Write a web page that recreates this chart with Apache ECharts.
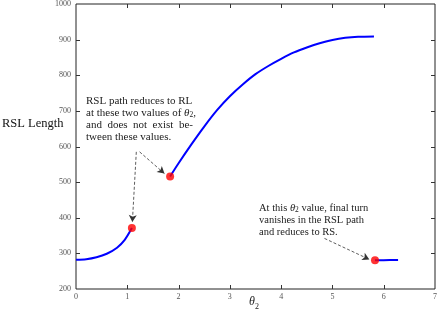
<!DOCTYPE html>
<html><head><meta charset="utf-8">
<script src="https://cdn.jsdelivr.net/npm/echarts@6/dist/echarts.min.js"></script>
<style>html,body{margin:0;padding:0;background:#fff}#c{width:440px;height:310px}</style>
</head><body><div id="c"></div>
<script>
// Segment 1: RSL length for theta2 in [0, ~1.09]
const seg1X = [0, 0.2, 0.4, 0.6, 0.8, 0.95, 1.09];
const seg1Y = [282, 283.5, 289, 299, 316, 338, 371];
// Segment 2: theta2 in [~1.835, ~5.81]
const seg2X = [1.835, 2.0, 2.25, 2.5, 2.75, 3.0, 3.25, 3.5, 3.75, 4.0, 4.25, 4.5, 4.75, 5.0, 5.25, 5.5, 5.81];
const seg2Y = [516, 553, 606, 656, 702, 741, 774, 803, 826, 846, 864, 878, 890, 899, 905, 908, 909];
// Segment 3: theta2 in [~5.83, 2*pi]
const seg3X = [5.83, 6.0, 6.28];
const seg3Y = [280.5, 281, 281.5];
// Special points (red dots)
const dotX = [1.09, 1.835, 5.83];
const dotY = [371, 516, 280.5];
// Axis ticks
const xTicks = [0, 1, 2, 3, 4, 5, 6, 7];
const yTicks = [200, 300, 400, 500, 600, 700, 800, 900, 1000];
// Annotation arrows (data coords: start -> end)
const arrows = [
  [[1.176, 585], [1.099, 388]],
  [[1.24, 585], [1.725, 524]],
  [[4.845, 342], [5.72, 283]]
];

const zip = (xs, ys) => xs.map((x, i) => [x, ys[i]]);
const FONT = 'Liberation Serif';
const chart = echarts.init(document.getElementById('c'), null, {renderer: 'canvas'});

function mkAxis(kind, pos, showLabel, margin) {
  const ticks = kind === 'x' ? xTicks : yTicks;
  return {
    type: 'value', position: pos,
    min: ticks[0], max: ticks[ticks.length - 1], interval: ticks[1] - ticks[0],
    axisLine: {show: false, onZero: false},
    axisTick: {show: false},
    splitLine: {show: false},
    axisLabel: {show: showLabel, color: 'rgb(85,85,85)', fontFamily: FONT, fontSize: 8, margin: margin, formatter: v => String(v)}
  };
}

const textGraphics = [
  {type: 'text', left: 2, top: 117, style: {text: 'RSL Length', font: '12.5px "' + FONT + '"', fill: '#111'}},
  {type: 'text', left: 249, top: 296, style: {
    text: '{t|θ}{s|2}',
    rich: {
      t: {fontFamily: FONT, fontStyle: 'italic', fontSize: 12, fill: '#222', verticalAlign: 'top'},
      s: {fontFamily: FONT, fontSize: 8, fill: '#222', padding: [7, 0, 0, 0], verticalAlign: 'top'}
    }}},
  {type: 'text', left: 86, top: 95, style: {
    text: 'RSL path reduces to RL\n{n|at these two values of }{t|θ}{s|2}{n|,}\nand  does  not  exist  be-\ntween these values.',
    font: '11px "' + FONT + '"', fill: '#222', lineHeight: 12,
    rich: {
      n: {fontFamily: FONT, fontSize: 11, fill: '#222'},
      t: {fontFamily: FONT, fontStyle: 'italic', fontSize: 11, fill: '#222'},
      s: {fontFamily: FONT, fontSize: 7.5, fill: '#222', padding: [5, 0, 0, 0]}
    }}},
  {type: 'text', left: 259, top: 202, style: {
    text: '{n|At this }{t|θ}{s|2}{n| value, final turn}\nvanishes in the RSL path\nand reduces to RS.',
    font: '10.5px "' + FONT + '"', fill: '#222', lineHeight: 12,
    rich: {
      n: {fontFamily: FONT, fontSize: 10.5, fill: '#222'},
      t: {fontFamily: FONT, fontStyle: 'italic', fontSize: 10.5, fill: '#222'},
      s: {fontFamily: FONT, fontSize: 7.5, fill: '#222', padding: [5, 0, 0, 0]}
    }}}
];

chart.setOption({
  animation: false,
  backgroundColor: '#fff',
  grid: {left: 76, right: 3, top: 4, bottom: 21, show: true, borderColor: 'rgb(34,34,34)', borderWidth: 1, backgroundColor: 'transparent'},
  xAxis: [mkAxis('x', 'bottom', true, 4)],
  yAxis: [mkAxis('y', 'left', true, 5)],
  series: [
    {type: 'line', data: zip(seg1X, seg1Y), smooth: 0.3, showSymbol: false, lineStyle: {color: '#0000ff', width: 2}, z: 3},
    {type: 'line', data: zip(seg2X, seg2Y), smooth: 0.3, showSymbol: false, lineStyle: {color: '#0000ff', width: 2}, z: 3},
    {type: 'line', data: zip(seg3X, seg3Y), smooth: 0.3, showSymbol: false, lineStyle: {color: '#0000ff', width: 2}, z: 3,
      markLine: {
        silent: true, animation: false,
        symbol: ['none', 'arrow'], symbolSize: [6, 7],
        label: {show: false},
        lineStyle: {color: '#333', type: [3, 2], width: 0.8},
        data: arrows.map(a => [{coord: a[0], symbol: 'none'}, {coord: a[1], symbol: 'arrow'}])
      }},
    {type: 'scatter', data: zip(dotX, dotY), symbolSize: 8, itemStyle: {color: '#ff0000'}, z: 5}
  ],
  graphic: textGraphics
});

// Inward tick marks on all four sides, positioned through the axes' own scales.
const TL = 4;
const xL = chart.convertToPixel({xAxisIndex: 0}, xTicks[0]);
const xR = chart.convertToPixel({xAxisIndex: 0}, xTicks[xTicks.length - 1]);
const yB = chart.convertToPixel({yAxisIndex: 0}, yTicks[0]);
const yT = chart.convertToPixel({yAxisIndex: 0}, yTicks[yTicks.length - 1]);
const tickStyle = {stroke: 'rgb(51,51,51)', lineWidth: 1};
const tickGraphics = [];
xTicks.slice(1, -1).forEach(v => {
  const px = Math.round(chart.convertToPixel({xAxisIndex: 0}, v)) + 0.5;
  tickGraphics.push({type: 'line', silent: true, z: 10, shape: {x1: px, y1: yB, x2: px, y2: yB - TL}, style: tickStyle});
  tickGraphics.push({type: 'line', silent: true, z: 10, shape: {x1: px, y1: yT, x2: px, y2: yT + TL}, style: tickStyle});
});
yTicks.slice(1, -1).forEach(v => {
  const py = Math.round(chart.convertToPixel({yAxisIndex: 0}, v)) + 0.5;
  tickGraphics.push({type: 'line', silent: true, z: 10, shape: {x1: xL, y1: py, x2: xL + TL, y2: py}, style: tickStyle});
  tickGraphics.push({type: 'line', silent: true, z: 10, shape: {x1: xR, y1: py, x2: xR - TL, y2: py}, style: tickStyle});
});
chart.setOption({graphic: textGraphics.concat(tickGraphics)});
</script></body></html>
